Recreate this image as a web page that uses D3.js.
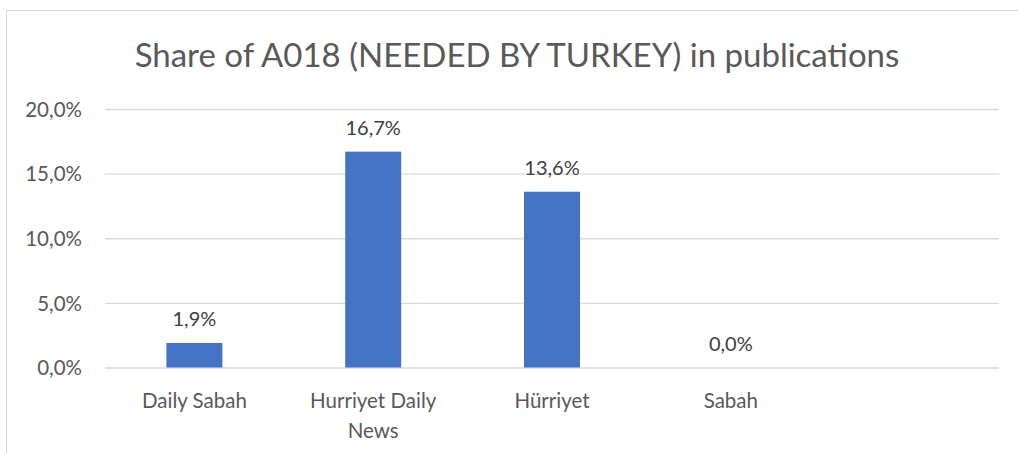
<!DOCTYPE html>
<html><head><meta charset="utf-8">
<script src="https://cdn.jsdelivr.net/npm/d3@7"></script>
<style>body{margin:0;background:#fff}svg{display:block}text{font-family:Lato,"Open Sans",sans-serif}</style>
</head><body><svg id="c" width="1018" height="453"></svg>
<script>
const title = "Share of A018 (NEEDED BY TURKEY) in publications";
const categories = ["Daily Sabah", "Hurriyet Daily News", "Hürriyet", "Sabah", ""];
const values = [0.019, 0.167, 0.136, 0.0, null];
const yTicks = [0, 0.05, 0.10, 0.15, 0.20];

const svg = d3.select("#c");
const m = {l:105, r:1018-999, t:109, b:453-367.5};
const W = 1018, H = 453;

// outer chart border (partially visible)
svg.append("path").attr("d","M6.5,453 V10.5 H1018").attr("fill","none").attr("stroke","#d9d9d9").attr("stroke-width",1);

const x = d3.scaleBand().domain(categories).range([m.l, W-m.r]).paddingInner(0.687).paddingOuter(0.3435);
const y = d3.scaleLinear().domain([0, 0.20]).range([H-m.b, m.t]);
const fmt = v => d3.format(".1f")(v*100).replace(".", ",") + "%";

svg.append("text").attr("x", 517).attr("y", 67).attr("text-anchor","middle")
  .attr("font-size", 33).attr("fill","#595959").text(title);

const ya = svg.append("g").attr("transform",`translate(${m.l},0)`)
  .call(d3.axisLeft(y).tickValues(yTicks).tickFormat(fmt).tickSize(-(W-m.r-m.l)).tickPadding(23));
ya.select(".domain").remove();
ya.selectAll(".tick line").attr("stroke","#d9d9d9").attr("stroke-width",1.3);
ya.selectAll(".tick text").attr("font-size",20.5).attr("fill","#595959").attr("dy","0.35em");

const xa = svg.append("g").attr("transform",`translate(0,${y(0)})`)
  .call(d3.axisBottom(x).tickSize(0).tickPadding(0));
xa.select(".domain").remove();
xa.selectAll(".tick text").remove();
xa.selectAll(".tick").each(function(d){
  const words = d === "Hurriyet Daily News" ? ["Hurriyet Daily","News"] : [d];
  const t = d3.select(this).append("text").attr("text-anchor","middle").attr("font-size",20.5).attr("fill","#595959");
  words.forEach((w,i)=> t.append("tspan").attr("x",0).attr("y",40 + i*30).text(w));
});

const data = categories.map((c,i)=>({c, v: values[i]})).filter(d=>d.v!==null);
svg.selectAll("rect.bar").data(data).join("rect").attr("class","bar")
  .attr("x", d=>x(d.c)).attr("width", x.bandwidth())
  .attr("y", d=>y(d.v)).attr("height", d=>y(0)-y(d.v)).attr("fill","#4472c4");

svg.selectAll("text.lbl").data(data).join("text").attr("class","lbl")
  .attr("x", d=>x(d.c)+x.bandwidth()/2).attr("y", d=>y(d.v)-17)
  .attr("text-anchor","middle").attr("font-size",20).attr("fill","#404040").text(d=>fmt(d.v));
</script></body></html>
